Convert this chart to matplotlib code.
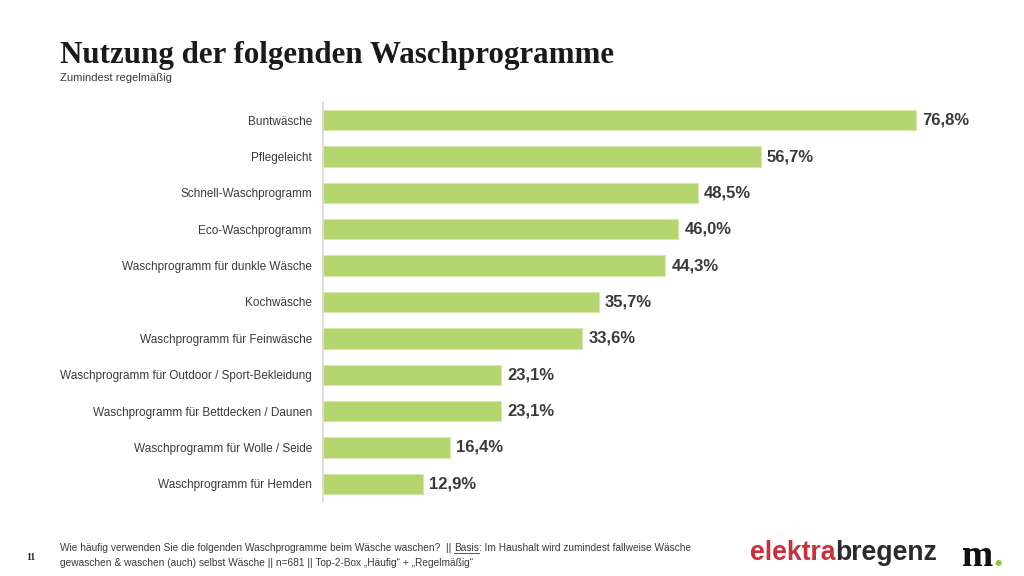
import matplotlib.pyplot as plt
from matplotlib.lines import Line2D

title = "Nutzung der folgenden Waschprogramme"
subtitle = "Zumindest regelmäßig"

categories = [
    "Buntwäsche",
    "Pflegeleicht",
    "Schnell-Waschprogramm",
    "Eco-Waschprogramm",
    "Waschprogramm für dunkle Wäsche",
    "Kochwäsche",
    "Waschprogramm für Feinwäsche",
    "Waschprogramm für Outdoor / Sport-Bekleidung",
    "Waschprogramm für Bettdecken / Daunen",
    "Waschprogramm für Wolle / Seide",
    "Waschprogramm für Hemden",
]
values = [76.8, 56.7, 48.5, 46.0, 44.3, 35.7, 33.6, 23.1, 23.1, 16.4, 12.9]
value_labels = ["76,8%", "56,7%", "48,5%", "46,0%", "44,3%", "35,7%",
                "33,6%", "23,1%", "23,1%", "16,4%", "12,9%"]

BAR = "#b5d56e"
TXT = "#3a3a3a"

fig = plt.figure(figsize=(10.24, 5.76), dpi=100)
fig.patch.set_facecolor("white")

ax = fig.add_axes([323 / 1024, 1 - 502 / 576, 695 / 1024, 400 / 576])
pos = list(range(len(categories)))
ax.barh(pos, values, height=0.56, color=BAR, edgecolor="#d3e8a8", linewidth=0.6)
ax.set_xlim(0, 90)
ax.set_ylim(len(categories) - 0.5, -0.5)
ax.set_yticks(pos)
ax.set_yticklabels(categories, fontsize=8.5, color=TXT, family="Liberation Sans")
ax.tick_params(axis="y", length=0, pad=8)
ax.set_xticks([])
for s in ["top", "right", "bottom"]:
    ax.spines[s].set_visible(False)
ax.spines["left"].set_color("#d9d9d9")
ax.spines["left"].set_linewidth(1.2)

for p, v, lab in zip(pos, values, value_labels):
    ax.text(v + 0.8, p, lab, va="center", ha="left", fontsize=12,
            fontweight="bold", color=TXT, family="Liberation Sans")

# title block
fig.text(60 / 1024, 1 - 55 / 576, title, fontsize=22.3, fontweight="bold",
         family="Liberation Serif", color="#1a1a1a", va="center", ha="left")
fig.text(60 / 1024, 1 - 78 / 576, subtitle, fontsize=8.1,
         family="Liberation Sans", color=TXT, va="center", ha="left")

# footer
FS = 7.3
fig.text(26 / 1024, 1 - 558 / 576, "11", fontsize=7, fontweight="bold",
         family="Liberation Serif", color="#222222", va="center")
t1 = fig.text(60 / 1024, 1 - 548 / 576,
              "Wie häufig verwenden Sie die folgenden Waschprogramme beim Wäsche waschen?  || ",
              fontsize=FS, family="Liberation Sans", color=TXT, va="center")
t2 = fig.text(0, 0, "Basis", fontsize=FS, family="Liberation Sans", color=TXT, va="center")
t3 = fig.text(0, 0, ": Im Haushalt wird zumindest fallweise Wäsche",
              fontsize=FS, family="Liberation Sans", color=TXT, va="center")
fig.text(60 / 1024, 1 - 563 / 576,
         "gewaschen & waschen (auch) selbst Wäsche || n=681 || Top-2-Box „Häufig“ + „Regelmäßig“",
         fontsize=FS, family="Liberation Sans", color=TXT, va="center")

fig.canvas.draw()
r = fig.canvas.get_renderer()
e1 = t1.get_window_extent(r)
t2.set_position((e1.x1 / fig.bbox.width, 1 - 548 / 576))
fig.canvas.draw()
e2 = t2.get_window_extent(r)
t3.set_position((e2.x1 / fig.bbox.width, 1 - 548 / 576))
fig.add_artist(Line2D([e2.x0 / fig.bbox.width, e2.x1 / fig.bbox.width],
                      [(e2.y0 + 0.5) / fig.bbox.height] * 2,
                      color=TXT, linewidth=0.6, transform=fig.transFigure))

# logos
l1 = fig.text(750 / 1024, 1 - 553 / 576, "elektra", fontsize=19.2, fontweight="bold",
              family="Liberation Sans", color="#c8313c", va="center", ha="left")
fig.canvas.draw()
el = l1.get_window_extent(r)
fig.text(el.x1 / fig.bbox.width, 1 - 553 / 576, "bregenz", fontsize=19.2,
         fontweight="bold", family="Liberation Sans", color="#2b2b2b",
         va="center", ha="left")
m = fig.text(962 / 1024, 1 - 556 / 576, "m", fontsize=27, fontweight="bold",
             family="Liberation Serif", color="#111111", va="center", ha="left")
fig.canvas.draw()
em = m.get_window_extent(r)
fig.text(em.x1 / fig.bbox.width, 1 - 556 / 576, ".", fontsize=27, fontweight="bold",
         family="Liberation Serif", color="#8cc63f", va="center", ha="left")

fig.savefig("out.png", dpi=100, facecolor="white")
